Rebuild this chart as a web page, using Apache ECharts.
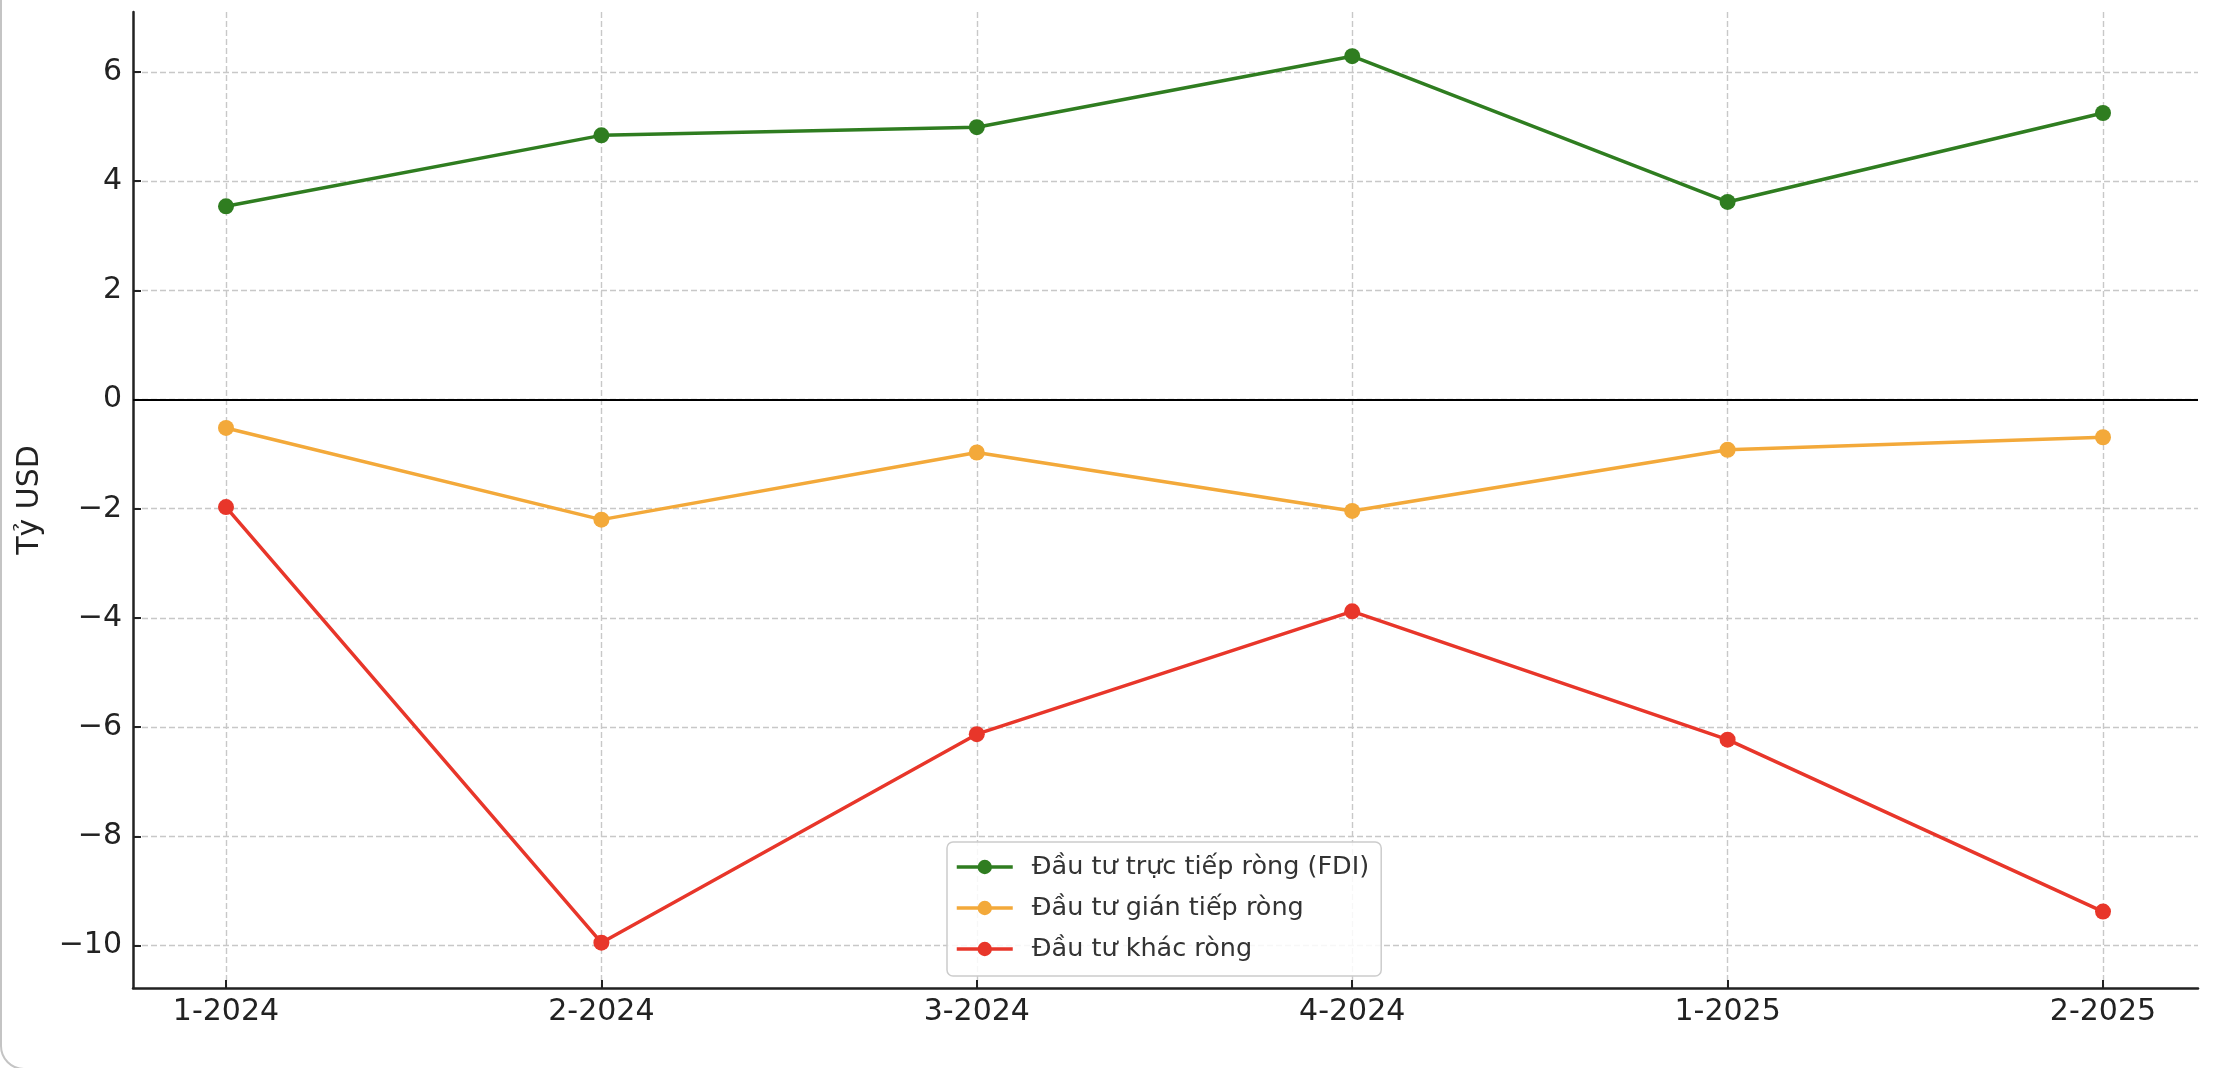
<!DOCTYPE html>
<html lang="vi">
<head>
<meta charset="utf-8">
<title>Đầu tư ròng theo quý</title>
<script src="https://cdn.jsdelivr.net/npm/echarts@6/dist/echarts.min.js"></script>
<style>
  html, body { margin: 0; padding: 0; background: #fff; overflow: hidden; }
  #chart { position: absolute; left: 0; top: 0; width: 2216px; height: 1068px; }
  /* khung bo góc của ảnh chụp gốc */
  .frame {
    position: absolute; left: 0; top: -60px; width: 2400px; height: 1130px;
    border: 2px solid #c4c4c4; border-radius: 24px; box-sizing: border-box;
    pointer-events: none;
  }
</style>
</head>
<body>
<div id="chart"></div>
<div class="frame"></div>
<script>
// ---------------------------------------------------------------------------
// Dữ liệu (tỷ USD)
// ---------------------------------------------------------------------------
const quarters = ["1-2024", "2-2024", "3-2024", "4-2024", "1-2025", "2-2025"];
const fdiValues = [3.54, 4.84, 4.99, 6.29, 3.62, 5.25];
const portfolioValues = [-0.52, -2.20, -0.97, -2.04, -0.92, -0.69];
const otherValues = [-1.97, -9.95, -6.13, -3.88, -6.23, -9.38];

const seriesNames = [
  "Đầu tư trực tiếp ròng (FDI)",
  "Đầu tư gián tiếp ròng",
  "Đầu tư khác ròng",
];
const seriesColors = ["#2f7d20", "#f3a93a", "#e8362a"];

// giới hạn trục y (kiểu matplotlib: biên 5%)
const Y_MIN = -10.78;
const Y_MAX = 7.1;

const FONT = "DejaVu Sans";
const AXIS_COLOR = "#222";
const GRID_COLOR = "#c8c8c8";

// khung vẽ: grid 0 là toàn bộ vùng trục, grid 1 là vùng các điểm dữ liệu
const PLOT = { left: 133, right: 18, top: 12, bottom: 80 };
const DATA = { left: 226, right: 113 };

const chart = echarts.init(document.getElementById("chart"), null, { renderer: "canvas" });

function lineSeries(name, values, color) {
  return {
    name,
    type: "line",
    xAxisIndex: 1,
    yAxisIndex: 1,
    data: values,
    symbol: "circle",
    symbolSize: 16,
    lineStyle: { color, width: 3.5 },
    itemStyle: { color },
    z: 3,
  };
}

const minusFmt = (v) => (v < 0 ? "\u2212" + Math.abs(v) : String(v));

chart.setOption({
  animation: false,
  textStyle: { fontFamily: FONT },
  grid: [
    { left: PLOT.left, right: PLOT.right, top: PLOT.top, bottom: PLOT.bottom },
    { left: DATA.left, right: DATA.right, top: PLOT.top, bottom: PLOT.bottom },
  ],
  xAxis: [
    {
      // trục dưới (chỉ là đường viền)
      gridIndex: 0,
      type: "value",
      min: 0,
      max: 1,
      axisLine: { show: true, onZero: false, lineStyle: { color: AXIS_COLOR, width: 2.5 } },
      axisTick: { show: false },
      axisLabel: { show: false },
      splitLine: { show: false },
    },
    {
      gridIndex: 1,
      type: "category",
      data: quarters,
      boundaryGap: false,
      axisLine: { show: false, onZero: false },
      axisTick: { show: true, inside: true, length: 8, lineStyle: { color: AXIS_COLOR, width: 2 } },
      axisLabel: { fontSize: 30, color: AXIS_COLOR, margin: 9, fontFamily: FONT },
      splitLine: { show: true, lineStyle: { color: GRID_COLOR, width: 1.4, type: [6, 3] } },
    },
  ],
  yAxis: [
    {
      gridIndex: 0,
      type: "value",
      min: Y_MIN,
      max: Y_MAX,
      splitNumber: 9,
      name: "Tỷ USD",
      nameLocation: "middle",
      nameGap: 88,
      nameRotate: 90,
      nameTextStyle: { fontSize: 30, color: AXIS_COLOR, fontFamily: FONT },
      axisLine: { show: true, onZero: false, lineStyle: { color: AXIS_COLOR, width: 2.5 } },
      axisTick: { show: true, inside: true, length: 8, lineStyle: { color: AXIS_COLOR, width: 2 } },
      axisLabel: {
        fontSize: 30, color: AXIS_COLOR, margin: 11, fontFamily: FONT,
        showMinLabel: false, showMaxLabel: false,
        formatter: minusFmt,
      },
      splitLine: {
        show: true, showMinLine: false, showMaxLine: false,
        lineStyle: { color: GRID_COLOR, width: 1.4, type: [6, 3] },
      },
    },
    {
      gridIndex: 1,
      type: "value",
      min: Y_MIN,
      max: Y_MAX,
      show: false,
    },
  ],
  legend: {
    data: seriesNames,
    orient: "vertical",
    left: 947,
    top: 842,
    itemWidth: 56,
    itemHeight: 18,
    itemGap: 11,
    padding: [10, 12, 12, 8],
    backgroundColor: "rgba(255,255,255,0.85)",
    borderColor: "#cccccc",
    borderWidth: 1.5,
    borderRadius: 6,
    lineStyle: { width: 3.5 },
    textStyle: { fontSize: 25.5, color: "#333", fontFamily: FONT, lineHeight: 30, padding: [0, 0, 0, 14] },
  },
  series: [
    lineSeries(seriesNames[0], fdiValues, seriesColors[0]),
    lineSeries(seriesNames[1], portfolioValues, seriesColors[1]),
    lineSeries(seriesNames[2], otherValues, seriesColors[2]),
    {
      // đường 0 kéo hết chiều ngang vùng trục
      name: "zero",
      type: "line",
      xAxisIndex: 0,
      yAxisIndex: 0,
      data: [],
      silent: true,
      markLine: {
        silent: true,
        symbol: "none",
        label: { show: false },
        lineStyle: { color: "#000", width: 2, type: "solid" },
        data: [{ yAxis: 0 }],
      },
      z: 2,
    },
  ],
});
</script>
</body>
</html>
